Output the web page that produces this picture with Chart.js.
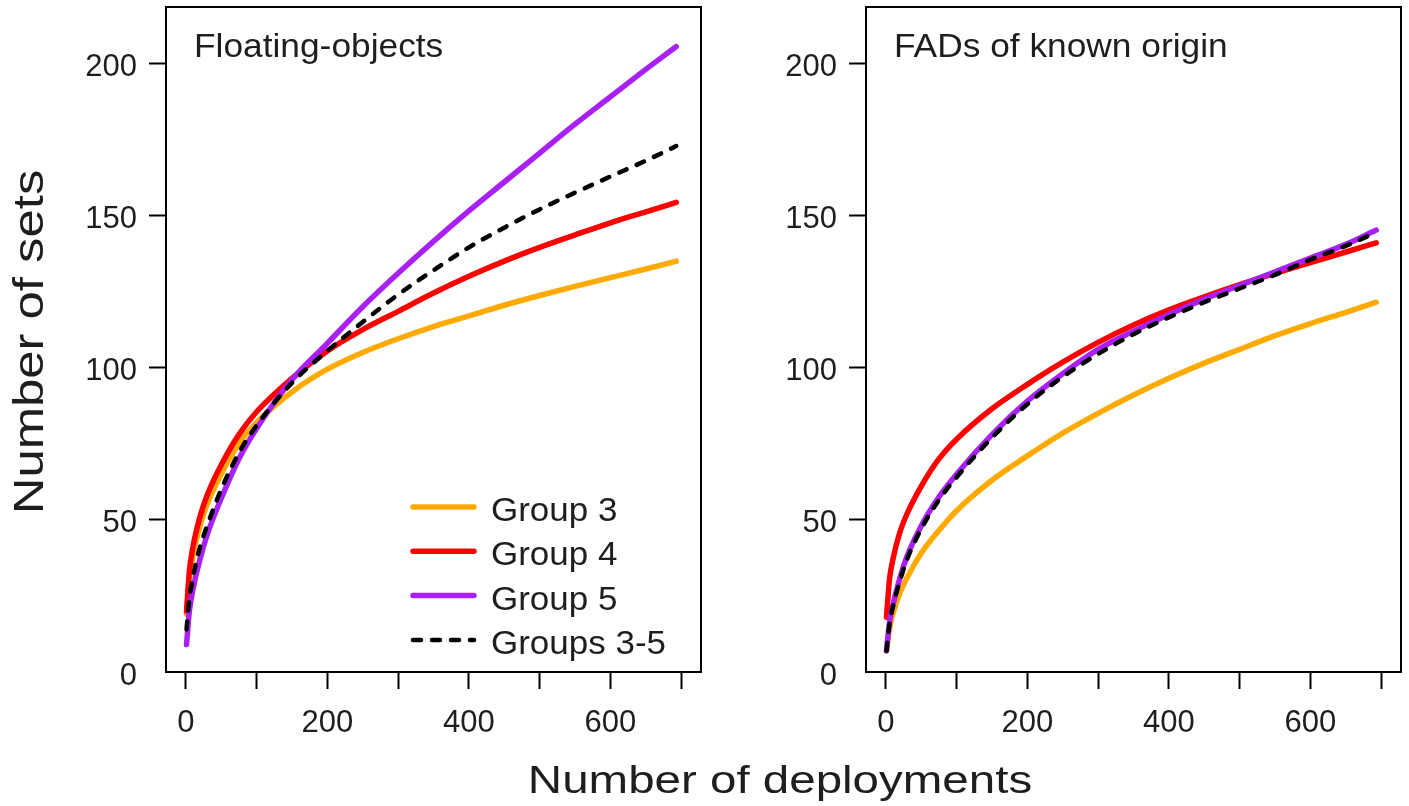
<!DOCTYPE html>
<html>
<head>
<meta charset="utf-8">
<script src="https://cdn.jsdelivr.net/npm/chart.js@4.4.1/dist/chart.umd.min.js"></script>
<style>
  html, body { margin: 0; padding: 0; background: #fff; }
  #wrap { position: relative; width: 1409px; height: 806px; }
  #wrap canvas { position: absolute; left: 0; top: 0; }
</style>
</head>
<body>
<div id="wrap">
  <canvas id="floating" width="1409" height="806"></canvas>
  <canvas id="fads" width="1409" height="806"></canvas>
</div>
<script>
// number of deployments at which the curves were read
const deployments = [1, 5, 10, 20, 30, 50, 75, 100, 150, 200, 250, 300, 350, 400, 450, 500, 550, 600, 650, 693];

// Floating-objects panel
const floatGroup3 = [19, 30, 38, 48, 55, 65, 75, 82, 92, 99.5, 105, 109.5, 113.5, 117, 120.5, 123.7, 126.7, 129.6, 132.4, 135];
const floatGroup4 = [20, 33, 41, 51, 58, 68, 78, 85.5, 96.5, 105.5, 112.5, 118.5, 124.5, 130, 135, 139.5, 143.6, 147.6, 151.2, 154.3];
const floatGroup5 = [9, 20, 27, 37, 45, 57, 70, 80, 96, 108, 120, 131, 141.5, 151.5, 161, 170.5, 180, 189, 198, 205.5];
const floatGroups35 = [14, 24, 31, 41, 48, 60, 72, 81, 95, 105.5, 115, 124, 132, 139.5, 146, 152, 157.5, 162.8, 168, 172.8];

// FADs of known origin panel
const fadsGroup3 = [7, 14, 19, 26, 31, 39, 46.5, 53, 63, 71, 78.5, 85, 91, 96.5, 101.5, 106, 110.5, 114.5, 118.2, 121.5];
const fadsGroup4 = [18, 30, 37, 46, 52, 61, 70, 76.5, 86.5, 94.5, 101.8, 108.3, 114, 119, 123.3, 127.3, 131, 134.5, 138, 141];
const fadsGroup5 = [7, 16, 22, 31, 38, 48, 57.5, 65, 78, 89, 98, 106, 112, 117.5, 122.5, 127, 131.5, 136, 140.5, 145.2];
const fadsGroups35 = [7, 15.5, 21.5, 30, 37, 47, 56.5, 64, 77, 88, 97, 104.5, 111, 116.5, 121.5, 126, 130.5, 135.5, 140, 144.5];

const seriesLabels = ['Group 3', 'Group 4', 'Group 5', 'Groups 3-5'];
const seriesColors = ['#FFAA00', '#FF0000', '#A820F5', '#000000'];

const xTickMarks = [0, 100, 200, 300, 400, 500, 600, 700];
const xTickLabels = [0, 200, 400, 600];
const yTicks = [0, 50, 100, 150, 200];

const FONT = '"Liberation Sans", Arial, Helvetica, sans-serif';
const INK = '#1e1e1e';

function drawScaledText(ctx, text, x, y, size, sx, align, rot) {
  ctx.save();
  ctx.translate(x, y);
  if (rot) ctx.rotate(rot);
  ctx.scale(sx, 1);
  ctx.font = size + 'px ' + FONT;
  ctx.fillStyle = INK;
  ctx.textAlign = align;
  ctx.textBaseline = 'alphabetic';
  ctx.fillText(text, 0, 0);
  ctx.restore();
}

// box around the plot plus the panel title
const framePlugin = {
  id: 'frame',
  afterDraw(chart, args, opts) {
    const { ctx, chartArea: a } = chart;
    ctx.save();
    ctx.strokeStyle = '#000';
    ctx.lineWidth = 2;
    ctx.strokeRect(a.left, a.top, a.right - a.left, a.bottom - a.top);
    ctx.restore();
    drawScaledText(ctx, opts.title, a.left + 28, a.top + 50, 33, 1.07, 'left');
  }
};

// legend inside the first panel
const legendPlugin = {
  id: 'innerLegend',
  afterDraw(chart, args, opts) {
    if (!opts.show) return;
    const ctx = chart.ctx;
    chart.data.datasets.forEach((ds, i) => {
      const y = 507 + i * 44.3;
      ctx.save();
      ctx.strokeStyle = ds.borderColor;
      ctx.lineWidth = ds.borderWidth;
      ctx.lineCap = 'round';
      ctx.setLineDash(ds.borderDash || []);
      ctx.beginPath();
      ctx.moveTo(413, y);
      ctx.lineTo(474, y);
      ctx.stroke();
      ctx.restore();
      drawScaledText(ctx, ds.label, 491, y + 14, 33, 1.06, 'left');
    });
  }
};

// shared axis titles
const axisTitlePlugin = {
  id: 'axisTitles',
  afterDraw(chart, args, opts) {
    if (!opts.show) return;
    const ctx = chart.ctx;
    drawScaledText(ctx, 'Number of deployments', 780, 793, 38, 1.25, 'center');
    drawScaledText(ctx, 'Number of sets', 43, 342, 42, 1.21, 'center', -Math.PI / 2);
  }
};

function makePanel(id, title, series, padLeft, padRight, first) {
  const datasets = series.map((vals, i) => ({
    label: seriesLabels[i],
    data: deployments.map((d, k) => ({ x: d, y: vals[k] })),
    borderColor: seriesColors[i],
    borderWidth: i === 3 ? 4.5 : 5.5,
    borderDash: i === 3 ? [8, 11] : [],
    borderCapStyle: 'round',
    borderJoinStyle: 'round',
    pointRadius: 0,
    cubicInterpolationMode: 'monotone',
    fill: false,
    order: 4 - i
  }));

  return new Chart(document.getElementById(id), {
    type: 'line',
    data: { datasets },
    plugins: [framePlugin, legendPlugin, axisTitlePlugin],
    options: {
      responsive: false,
      animation: false,
      events: [],
      layout: { padding: { left: padLeft, right: padRight, top: 7, bottom: 0 } },
      plugins: {
        legend: { display: false },
        tooltip: { enabled: false },
        frame: { title },
        innerLegend: { show: first },
        axisTitles: { show: first }
      },
      scales: {
        x: {
          type: 'linear',
          min: -28,
          max: 728,
          afterBuildTicks: s => { s.ticks = xTickMarks.map(v => ({ value: v })); },
          afterFit: s => { s.height = 134; s.paddingLeft = 0; s.paddingRight = 0; },
          border: { display: false },
          grid: { drawOnChartArea: false, drawTicks: true, tickLength: 17, tickWidth: 2, tickColor: '#000' },
          ticks: {
            autoSkip: false,
            maxRotation: 0,
            padding: 16,
            color: INK,
            font: { family: FONT, size: 31 },
            callback: v => xTickLabels.includes(v) ? String(v) : ''
          }
        },
        y: {
          type: 'linear',
          min: 0,
          max: 218.5,
          afterBuildTicks: s => { s.ticks = yTicks.map(v => ({ value: v })); },
          afterFit: s => { s.width = 166; s.paddingTop = 0; s.paddingBottom = 0; },
          border: { display: false },
          grid: {
            drawOnChartArea: false, drawTicks: true, tickLength: 17, tickWidth: 2,
            tickColor: c => (c.tick && c.tick.value === 0) ? 'rgba(0,0,0,0)' : '#000'
          },
          ticks: {
            padding: 12,
            labelOffset: 4,
            color: INK,
            font: { family: FONT, size: 31 }
          }
        }
      }
    }
  });
}

makePanel('floating', 'Floating-objects',
  [floatGroup3, floatGroup4, floatGroup5, floatGroups35], 0, 708, true);
makePanel('fads', 'FADs of known origin',
  [fadsGroup3, fadsGroup4, fadsGroup5, fadsGroups35], 700, 8, false);
</script>
</body>
</html>
